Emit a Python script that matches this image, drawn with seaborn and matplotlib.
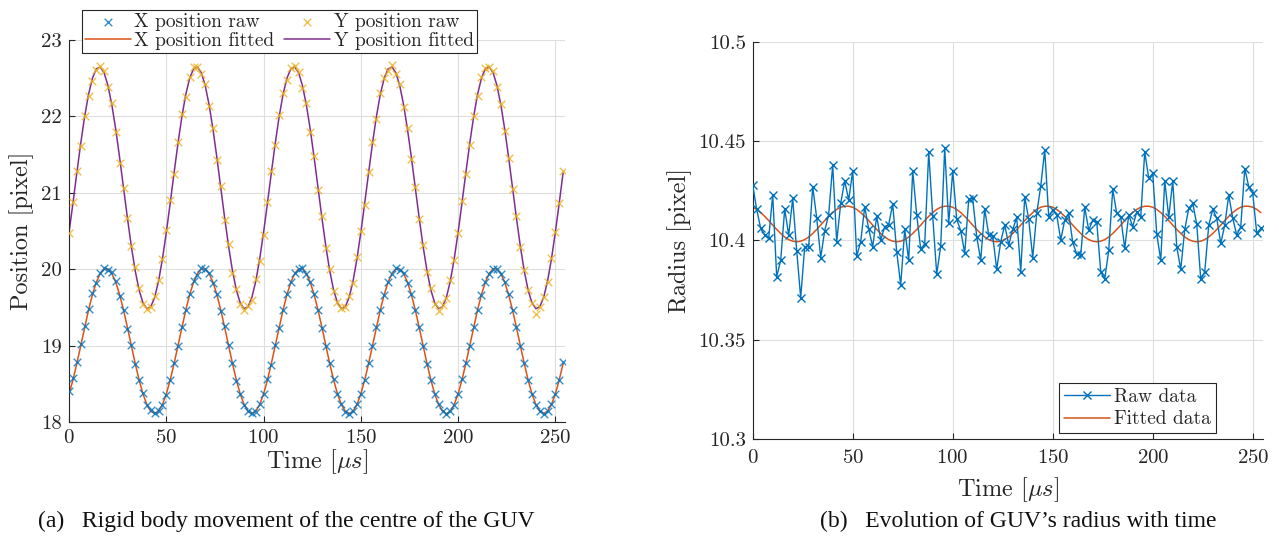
import numpy as np
import matplotlib
matplotlib.use("Agg")
import matplotlib.pyplot as plt
import seaborn as sns

# sample times [us], one frame every 2 us
time_us = np.arange(0, 255, 2)

# (a) centre position, raw and fitted [pixel]
x_raw = [18.40, 18.57, 18.78, 19.02, 19.25, 19.48, 19.69, 19.82, 19.95, 20.02, 19.99, 19.96, 19.84, 19.65, 19.47, 19.22, 19.01, 18.76, 18.55, 18.38, 18.22, 18.16, 18.12, 18.15, 18.22,
         18.35, 18.55, 18.77, 18.99, 19.24, 19.47, 19.67, 19.84, 19.93, 20.01, 20.00, 19.95, 19.82, 19.67, 19.45, 19.25, 19.01, 18.77, 18.54, 18.36, 18.22, 18.14, 18.12, 18.13, 18.24,
         18.37, 18.56, 18.75, 19.01, 19.23, 19.46, 19.67, 19.83, 19.95, 20.00, 20.01, 19.94, 19.83, 19.68, 19.47, 19.23, 18.99, 18.77, 18.56, 18.37, 18.23, 18.13, 18.11, 18.15, 18.23,
         18.36, 18.55, 18.77, 19.00, 19.24, 19.47, 19.66, 19.83, 19.94, 20.01, 19.99, 19.95, 19.82, 19.67, 19.46, 19.24, 19.00, 18.76, 18.55, 18.37, 18.23, 18.15, 18.10, 18.14, 18.22,
         18.37, 18.56, 18.77, 19.00, 19.24, 19.47, 19.66, 19.83, 19.94, 20.00, 20.00, 19.94, 19.83, 19.67, 19.47, 19.24, 19.00, 18.77, 18.55, 18.37, 18.22, 18.14, 18.11, 18.14, 18.23,
         18.37, 18.55, 18.79]
x_fit = [18.367, 18.551, 18.766, 19.000, 19.238, 19.465, 19.666, 19.829, 19.943, 20.003, 20.003, 19.943, 19.829, 19.666, 19.465, 19.238, 19.000, 18.766, 18.551, 18.367, 18.228, 18.140, 18.110, 18.140, 18.228,
         18.367, 18.551, 18.766, 19.000, 19.238, 19.465, 19.666, 19.829, 19.943, 20.003, 20.003, 19.943, 19.829, 19.666, 19.465, 19.238, 19.000, 18.766, 18.551, 18.367, 18.228, 18.140, 18.110, 18.140, 18.228,
         18.367, 18.551, 18.766, 19.000, 19.238, 19.465, 19.666, 19.829, 19.943, 20.003, 20.003, 19.943, 19.829, 19.666, 19.465, 19.238, 19.000, 18.766, 18.551, 18.367, 18.228, 18.140, 18.110, 18.140, 18.228,
         18.367, 18.551, 18.766, 19.000, 19.238, 19.465, 19.666, 19.829, 19.943, 20.003, 20.003, 19.943, 19.829, 19.666, 19.465, 19.238, 19.000, 18.766, 18.551, 18.367, 18.228, 18.140, 18.110, 18.140, 18.228,
         18.367, 18.551, 18.766, 19.000, 19.238, 19.465, 19.666, 19.829, 19.943, 20.003, 20.003, 19.943, 19.829, 19.666, 19.465, 19.238, 19.000, 18.766, 18.551, 18.367, 18.228, 18.140, 18.110, 18.140, 18.228,
         18.367, 18.551, 18.766]
y_raw = [20.48, 20.88, 21.29, 21.61, 22.00, 22.27, 22.46, 22.61, 22.66, 22.60, 22.38, 22.17, 21.80, 21.39, 21.06, 20.67, 20.31, 20.03, 19.76, 19.55, 19.48, 19.50, 19.65, 19.86, 20.13,
         20.51, 20.90, 21.24, 21.67, 22.03, 22.26, 22.52, 22.64, 22.65, 22.55, 22.42, 22.13, 21.85, 21.43, 21.09, 20.64, 20.33, 19.95, 19.74, 19.54, 19.47, 19.52, 19.60, 19.87, 20.11,
         20.45, 20.88, 21.28, 21.63, 22.02, 22.30, 22.47, 22.63, 22.66, 22.58, 22.37, 22.18, 21.80, 21.48, 21.04, 20.70, 20.28, 20.00, 19.71, 19.57, 19.49, 19.50, 19.65, 19.82, 20.16,
         20.50, 20.84, 21.27, 21.66, 21.97, 22.31, 22.50, 22.60, 22.67, 22.56, 22.43, 22.12, 21.85, 21.44, 21.08, 20.66, 20.32, 19.96, 19.75, 19.54, 19.45, 19.53, 19.62, 19.86, 20.12,
         20.47, 20.89, 21.25, 21.63, 22.01, 22.27, 22.52, 22.63, 22.65, 22.59, 22.39, 22.16, 21.81, 21.46, 21.05, 20.69, 20.29, 19.99, 19.73, 19.56, 19.42, 19.51, 19.64, 19.83, 20.15,
         20.49, 20.87, 21.29]
y_fit = [20.482, 20.866, 21.264, 21.648, 21.997, 22.286, 22.499, 22.622, 22.647, 22.572, 22.403, 22.150, 21.829, 21.459, 21.065, 20.671, 20.301, 19.980, 19.727, 19.558, 19.483, 19.508, 19.631, 19.844, 20.133,
         20.482, 20.866, 21.264, 21.648, 21.997, 22.286, 22.499, 22.622, 22.647, 22.572, 22.403, 22.150, 21.829, 21.459, 21.065, 20.671, 20.301, 19.980, 19.727, 19.558, 19.483, 19.508, 19.631, 19.844, 20.133,
         20.482, 20.866, 21.264, 21.648, 21.997, 22.286, 22.499, 22.622, 22.647, 22.572, 22.403, 22.150, 21.829, 21.459, 21.065, 20.671, 20.301, 19.980, 19.727, 19.558, 19.483, 19.508, 19.631, 19.844, 20.133,
         20.482, 20.866, 21.264, 21.648, 21.997, 22.286, 22.499, 22.622, 22.647, 22.572, 22.403, 22.150, 21.829, 21.459, 21.065, 20.671, 20.301, 19.980, 19.727, 19.558, 19.483, 19.508, 19.631, 19.844, 20.133,
         20.482, 20.866, 21.264, 21.648, 21.997, 22.286, 22.499, 22.622, 22.647, 22.572, 22.403, 22.150, 21.829, 21.459, 21.065, 20.671, 20.301, 19.980, 19.727, 19.558, 19.483, 19.508, 19.631, 19.844, 20.133,
         20.482, 20.866, 21.264]

# (b) GUV radius, raw and fitted [pixel]
radius_raw = [10.4280, 10.4156, 10.4060, 10.4027, 10.4010, 10.4230, 10.3817, 10.3900, 10.4158, 10.4027, 10.4211, 10.3948, 10.3711, 10.3968, 10.3968, 10.4270,
              10.4114, 10.3913, 10.4049, 10.4130, 10.4380, 10.3993, 10.4186, 10.4300, 10.4203, 10.4350, 10.3921, 10.3993, 10.4170, 10.4057, 10.3968,
              10.4122, 10.4002, 10.4069, 10.4080, 10.4183, 10.3943, 10.3775, 10.4055, 10.3900, 10.4349, 10.4128, 10.3956, 10.3982, 10.4446, 10.4122, 10.3830,
              10.3971, 10.4463, 10.4086, 10.4350, 10.4106, 10.4049, 10.3935, 10.4206, 10.4211, 10.4018, 10.3900, 10.4158, 10.4027, 10.4022, 10.3854,
              10.3993, 10.4077, 10.3977, 10.4055, 10.4116, 10.3842, 10.4220, 10.4106, 10.3913, 10.4136, 10.4273, 10.4455, 10.4119, 10.4153, 10.4128, 10.4002,
              10.4102, 10.4136, 10.3990, 10.3931, 10.3926, 10.4166, 10.4052, 10.4102, 10.4094, 10.3842, 10.3804, 10.3951, 10.4257, 10.4136, 10.4116, 10.3960,
              10.4128, 10.4069, 10.4144, 10.4116, 10.4446, 10.4312, 10.4337, 10.4032, 10.3900, 10.4300, 10.4116, 10.4300, 10.3968, 10.3854, 10.4055, 10.4161,
              10.4186, 10.4082, 10.3804, 10.3842, 10.4077, 10.4156, 10.4111, 10.3985, 10.4077, 10.4228, 10.4111, 10.4027, 10.4069, 10.4362, 10.4270, 10.4237,
              10.4035, 10.4060]
radius_fit = [10.4167, 10.4156, 10.4140, 10.4121, 10.4100, 10.4077, 10.4055, 10.4035, 10.4017, 10.4004, 10.3996, 10.3993, 10.3996, 10.4004, 10.4017, 10.4035, 10.4055, 10.4077, 10.4100, 10.4121, 10.4140, 10.4156, 10.4167, 10.4172, 10.4172,
              10.4167, 10.4156, 10.4140, 10.4121, 10.4100, 10.4077, 10.4055, 10.4035, 10.4017, 10.4004, 10.3996, 10.3993, 10.3996, 10.4004, 10.4017, 10.4035, 10.4055, 10.4077, 10.4100, 10.4121, 10.4140, 10.4156, 10.4167, 10.4172, 10.4172,
              10.4167, 10.4156, 10.4140, 10.4121, 10.4100, 10.4077, 10.4055, 10.4035, 10.4017, 10.4004, 10.3996, 10.3993, 10.3996, 10.4004, 10.4017, 10.4035, 10.4055, 10.4077, 10.4100, 10.4121, 10.4140, 10.4156, 10.4167, 10.4172, 10.4172,
              10.4167, 10.4156, 10.4140, 10.4121, 10.4100, 10.4077, 10.4055, 10.4035, 10.4017, 10.4004, 10.3996, 10.3993, 10.3996, 10.4004, 10.4017, 10.4035, 10.4055, 10.4077, 10.4100, 10.4121, 10.4140, 10.4156, 10.4167, 10.4172, 10.4172,
              10.4167, 10.4156, 10.4140, 10.4121, 10.4100, 10.4077, 10.4055, 10.4035, 10.4017, 10.4004, 10.3996, 10.3993, 10.3996, 10.4004, 10.4017, 10.4035, 10.4055, 10.4077, 10.4100, 10.4121, 10.4140, 10.4156, 10.4167, 10.4172, 10.4172,
              10.4167, 10.4156, 10.4140]

x_ticks = [0, 50, 100, 150, 200, 250]
pos_ticks = [18, 19, 20, 21, 22, 23]
rad_ticks = [10.3, 10.35, 10.4, 10.45, 10.5]

# MATLAB default colours
BLUE = "#0072BD"
ORANGE = "#D95319"
YELLOW = "#EDB120"
PURPLE = "#7E2F8E"
INK = "#262626"

sns.set_theme(style="white")
plt.rcParams.update({
    "font.family": "serif",
    "font.serif": ["cmr10", "DejaVu Serif"],
    "mathtext.fontset": "cm",
    "axes.formatter.use_mathtext": True,
    "axes.unicode_minus": False,
    "xtick.direction": "in",
    "ytick.direction": "in",
})


def style_axes(ax, yticks, ylim, ylabel, xpad, xlabel_y, ylabel_x):
    ax.set_xlim(0, 255)
    ax.set_ylim(*ylim)
    ax.set_xticks(x_ticks)
    ax.set_yticks(yticks)
    ax.set_yticklabels([f"{v:g}" for v in yticks])
    ax.grid(True, color="#dedede", linewidth=0.8)
    ax.set_axisbelow(True)
    for side in ["top", "right"]:
        ax.spines[side].set_visible(False)
    for side in ["left", "bottom"]:
        ax.spines[side].set_color(INK)
        ax.spines[side].set_linewidth(0.8)
    ax.tick_params(axis="both", which="both", bottom=True, left=True, length=4,
                   width=0.8, color=INK, labelsize=15, labelcolor=INK)
    ax.tick_params(axis="x", pad=xpad)
    ax.tick_params(axis="y", pad=5)
    ax.set_xlabel(r"Time [$\mu s$]", fontsize=17.5, color=INK, va="center")
    ax.set_ylabel(ylabel, fontsize=17.5, color=INK, va="center", ha="center")
    ax.xaxis.set_label_coords(0.5, xlabel_y)
    ax.yaxis.set_label_coords(ylabel_x, 0.5)


fig = plt.figure(figsize=(12.79, 5.36), dpi=100)
ax1 = fig.add_axes([0.054, 0.2127, 0.3878, 0.7127])
ax2 = fig.add_axes([0.5885, 0.181, 0.3988, 0.741])

# (a) rigid body movement
sns.scatterplot(x=time_us, y=x_raw, ax=ax1, marker="x", s=30, color=BLUE, linewidth=1.0,
                alpha=0.8, label="X position raw", zorder=3)
sns.lineplot(x=time_us, y=x_fit, ax=ax1, color=ORANGE, linewidth=1.1, sort=False,
             estimator=None, label="X position fitted", zorder=2)
sns.scatterplot(x=time_us, y=y_raw, ax=ax1, marker="x", s=30, color=YELLOW, linewidth=1.0,
                alpha=0.8, label="Y position raw", zorder=3)
sns.lineplot(x=time_us, y=y_fit, ax=ax1, color=PURPLE, linewidth=1.1, sort=False,
             estimator=None, label="Y position fitted", zorder=2)
style_axes(ax1, pos_ticks, (18, 23), "Position [pixel]", xpad=5,
           xlabel_y=-0.105, ylabel_x=-0.095)
leg1 = ax1.legend(loc="upper left", bbox_to_anchor=(0.026, 1.079), ncol=2, fontsize=14,
                  frameon=True, fancybox=False, edgecolor=INK, framealpha=1,
                  handlelength=2.35, handletextpad=0.2, columnspacing=0.5,
                  borderpad=0.15, labelspacing=0.05, borderaxespad=0)
leg1.get_frame().set_linewidth(0.8)

# (b) radius evolution
sns.lineplot(x=time_us, y=radius_raw, ax=ax2, color=BLUE, linewidth=1.0, marker="x",
             markersize=6, markeredgewidth=1.0, markeredgecolor=BLUE, sort=False,
             estimator=None, label="Raw data", zorder=3)
sns.lineplot(x=time_us, y=radius_fit, ax=ax2, color=ORANGE, linewidth=1.1, sort=False,
             estimator=None, label="Fitted data", zorder=2)
style_axes(ax2, rad_ticks, (10.3, 10.5), "Radius [pixel]", xpad=7,
           xlabel_y=-0.128, ylabel_x=-0.1425)
leg2 = ax2.legend(loc="lower right", bbox_to_anchor=(0.908, 0.0144), fontsize=14,
                  frameon=True, fancybox=False, edgecolor=INK, framealpha=1,
                  handlelength=2.4, handletextpad=0.2, borderpad=0.25,
                  labelspacing=0.25, borderaxespad=0)
leg2.get_frame().set_linewidth(0.8)

fig.text(0.224, 0.028, "(a)   Rigid body movement of the centre of the GUV",
         ha="center", va="center", fontsize=17, family=["Liberation Serif"], color="#111111")
fig.text(0.796, 0.028, "(b)   Evolution of GUV\u2019s radius with time",
         ha="center", va="center", fontsize=17, family=["Liberation Serif"], color="#111111")

fig.savefig("out.png", dpi=100)
